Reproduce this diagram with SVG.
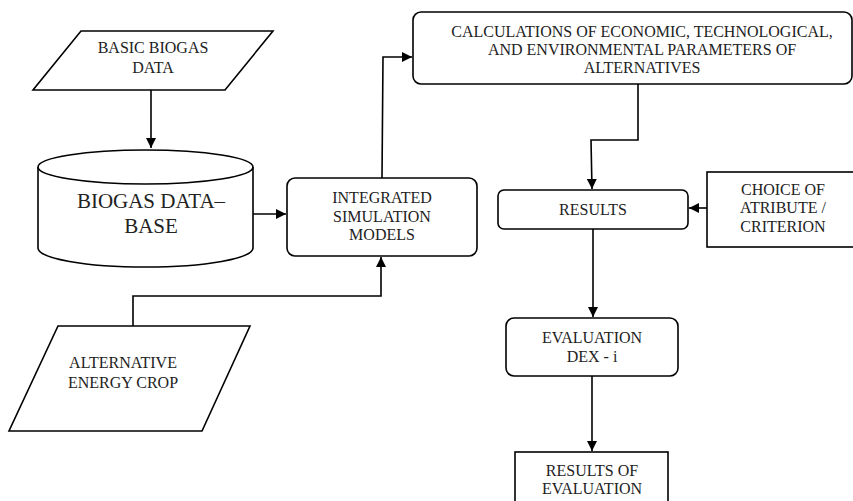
<svg xmlns="http://www.w3.org/2000/svg" width="853" height="501" viewBox="0 0 853 501">
<style>
.s{fill:#fff;stroke:#000;stroke-width:1.6}
.c{fill:none;stroke:#000;stroke-width:1.6}
text{font-family:"Liberation Serif","Times New Roman",serif;font-size:16px;fill:#222;text-anchor:middle}
.big{font-size:21px}
</style>
<defs>
<marker id="ah" markerWidth="12" markerHeight="12" refX="10" refY="5" orient="auto" markerUnits="userSpaceOnUse">
<path d="M0,0 L10,5 L0,10 Z" fill="#000"/>
</marker>
</defs>
<g id="basic">
<polygon class="s" points="81,31 273,31 225,90 33,90"/>
<text x="153" y="53">BASIC BIOGAS</text>
<text x="153" y="73">DATA</text>
</g>
<g id="db">
<path class="s" d="M38,167 L38,248 A107.5,19 0 0 0 253,248 L253,167"/>
<ellipse class="s" cx="145.5" cy="167" rx="107.5" ry="17"/>
<text class="big" x="151" y="208">BIOGAS DATA–</text>
<text class="big" x="151" y="233">BASE</text>
</g>
<g id="integrated">
<rect class="s" x="287" y="178" width="190" height="78" rx="8"/>
<text x="382" y="203">INTEGRATED</text>
<text x="382" y="222">SIMULATION</text>
<text x="382" y="240">MODELS</text>
</g>
<g id="calc">
<rect class="s" x="413" y="12" width="439" height="72" rx="8"/>
<text x="642" y="37">CALCULATIONS OF ECONOMIC, TECHNOLOGICAL,</text>
<text x="642" y="55">AND ENVIRONMENTAL PARAMETERS OF</text>
<text x="642" y="73">ALTERNATIVES</text>
</g>
<g id="results">
<rect class="s" x="498" y="190" width="190" height="39" rx="6"/>
<text x="593" y="215">RESULTS</text>
</g>
<g id="choice">
<rect class="s" x="707" y="172" width="147" height="75"/>
<text x="783" y="195">CHOICE OF</text>
<text x="783" y="213">ATRIBUTE /</text>
<text x="783" y="232">CRITERION</text>
</g>
<g id="evaluation">
<rect class="s" x="506" y="318" width="172" height="58" rx="8"/>
<text x="592" y="343">EVALUATION</text>
<text x="592" y="362">DEX - i</text>
</g>
<g id="resultsEval">
<rect class="s" x="515" y="452" width="153" height="60"/>
<text x="592" y="476">RESULTS OF</text>
<text x="592" y="494">EVALUATION</text>
</g>
<g id="alt">
<polygon class="s" points="58,326 250,326 202,431 9,431"/>
<text x="123" y="368">ALTERNATIVE</text>
<text x="123" y="388">ENERGY CROP</text>
</g>
<g id="connectors">
<path class="c" d="M151,90 L151,148" marker-end="url(#ah)"/>
<path class="c" d="M253,214 L286,214" marker-end="url(#ah)"/>
<path class="c" d="M382,178 L383,57 L412,57" marker-end="url(#ah)"/>
<path class="c" d="M638,84 L638,140 L591,140 L592,189" marker-end="url(#ah)"/>
<path class="c" d="M707,208 L689,208" marker-end="url(#ah)"/>
<path class="c" d="M593,229 L593,317" marker-end="url(#ah)"/>
<path class="c" d="M592,376 L592,451" marker-end="url(#ah)"/>
<path class="c" d="M133,326 L133,296 L381,296 L381,257" marker-end="url(#ah)"/>
</g>
</svg>
